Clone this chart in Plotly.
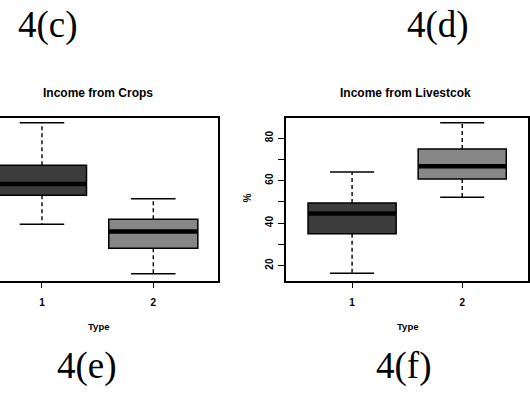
import plotly.graph_objects as go

W, H = 530, 394

types = [1, 2]
type_labels = ["1", "2"]
box_colors = ["#3c3c3c", "#878787"]

# Income from Crops (%), per Type
crops_lower = [39.5, 16.2]
crops_q1 = [53.1, 28.2]
crops_median = [58.4, 36.0]
crops_q3 = [67.2, 41.8]
crops_upper = [87.2, 51.5]

# Income from Livestock (%), per Type
live_lower = [16.4, 52.2]
live_q1 = [35.0, 60.8]
live_median = [44.5, 66.8]
live_q3 = [49.5, 74.9]
live_upper = [64.0, 87.2]

y_ticks = [20, 30, 40, 50, 60, 70, 80]
y_ticktext = ["20", "", "40", "", "60", "", "80"]

BOXW = 0.8
CAPW = 0.4

fig = go.Figure()


def add_panel(xa, ya, lower, q1, med, q3, upper):
    fig.add_trace(go.Bar(
        x=types, base=q1, y=[b - a for a, b in zip(q1, q3)], width=BOXW,
        marker=dict(color=box_colors, line=dict(color="black", width=1.5)),
        xaxis=xa, yaxis=ya, showlegend=False, hoverinfo="skip"))
    for i, t in enumerate(types):
        # whiskers
        for a, b in ((q3[i], upper[i]), (q1[i], lower[i])):
            fig.add_trace(go.Scatter(
                x=[t, t], y=[a, b], mode="lines",
                line=dict(color="black", width=1.4, dash="4px,3px"),
                xaxis=xa, yaxis=ya, showlegend=False, hoverinfo="skip"))
        # caps
        for v in (upper[i], lower[i]):
            fig.add_trace(go.Scatter(
                x=[t - CAPW / 2, t + CAPW / 2], y=[v, v], mode="lines",
                line=dict(color="black", width=1.5),
                xaxis=xa, yaxis=ya, showlegend=False, hoverinfo="skip"))
        # median
        fig.add_trace(go.Scatter(
            x=[t - BOXW / 2, t + BOXW / 2], y=[med[i], med[i]], mode="lines",
            line=dict(color="black", width=4.5),
            xaxis=xa, yaxis=ya, showlegend=False, hoverinfo="skip"))


add_panel("x", "y", crops_lower, crops_q1, crops_median, crops_q3, crops_upper)
add_panel("x2", "y2", live_lower, live_q1, live_median, live_q3, live_upper)

ydom = [1 - 280.7 / H, 1 - 117.7 / H]
yrange = [12.9, 89.6]
tickfont = dict(family="Liberation Sans, Arial, sans-serif", size=10, color="#000000",
                weight="bold")

common_x = dict(
    showgrid=False, zeroline=False, showline=True, linecolor="black", linewidth=1.5,
    ticks="outside", ticklen=6, tickwidth=1.3, tickcolor="black",
    tickvals=types, ticktext=type_labels, tickfont=tickfont, fixedrange=True,
    ticklabelstandoff=6)

fig.update_layout(
    width=W, height=H, margin=dict(l=0, r=0, t=0, b=0),
    paper_bgcolor="white", plot_bgcolor="white",
    xaxis=dict(domain=[0, 218 / W], range=[0.623, 2.581], mirror=True, anchor="y", **common_x),
    yaxis=dict(domain=ydom, range=yrange, side="right", showline=True, linecolor="black",
               linewidth=1.5, showgrid=False, zeroline=False, ticks="",
               showticklabels=False, anchor="x"),
    xaxis2=dict(domain=[286 / W, 528.3 / W], range=[0.4, 2.6], mirror=True, anchor="y2", **common_x),
    yaxis2=dict(domain=ydom, range=yrange, showline=True, mirror=True, linecolor="black",
                linewidth=1.5, showgrid=False, zeroline=False, ticks="outside",
                ticklen=6, tickwidth=1.3, tickcolor="black",
                tickvals=y_ticks, ticktext=y_ticktext, tickangle=-90,
                tickfont=tickfont, anchor="x2", ticklabelstandoff=1),
)

def ann(text, px, py, size, family, bold=False, angle=0):
    fig.add_annotation(
        text=("<b>%s</b>" % text) if bold else text,
        x=px / W, y=1 - py / H, xref="paper", yref="paper",
        xanchor="center", yanchor="middle", showarrow=False, textangle=angle,
        font=dict(family=family, size=size, color="black"))

SANS = "Liberation Sans, Arial, sans-serif"
SERIF = "Liberation Serif, Times New Roman, serif"

ann("Income from Crops", 98, 93, 12, SANS, bold=True)
ann("Income from Livestcok", 405.7, 93, 12, SANS, bold=True)
ann("Type", 98, 326, 9.5, SANS, bold=True)
ann("Type", 407, 326, 9.5, SANS, bold=True)
ann("%", 247.5, 198, 10, SANS, bold=True, angle=-90)

ann("4(c)", 47.5, 25.3, 37, SERIF)
ann("4(d)", 438, 25.3, 37, SERIF)
ann("4(e)", 87, 366, 37, SERIF)
ann("4(f)", 403, 366, 37, SERIF)

fig.write_html("out.html")
